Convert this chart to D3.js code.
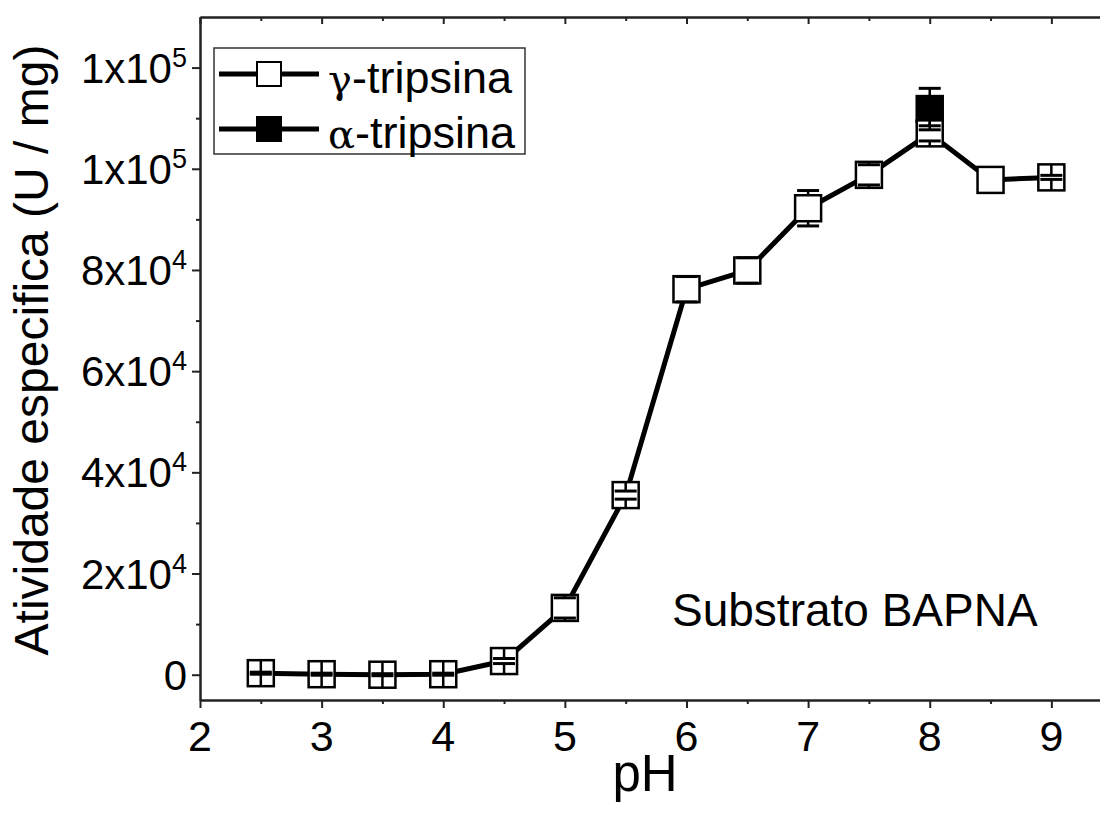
<!DOCTYPE html>
<html>
<head>
<meta charset="utf-8">
<script src="https://cdn.jsdelivr.net/npm/d3@7/dist/d3.min.js"></script>
<style>
  html, body { margin: 0; padding: 0; background: #fff; }
  svg { display: block; font-family: "Liberation Sans", Arial, sans-serif; }
</style>
</head>
<body>
<svg id="chart" width="1100" height="814"></svg>
<script>
// ---- data ----
const ph = [2.5, 3, 3.5, 4, 4.5, 5, 5.5, 6, 6.5, 7, 7.5, 8, 8.5, 9];
const gammaValues = [300, 100, 0, 100, 2700, 13200, 35500, 76200, 79900, 92200, 98800, 107000, 97800, 98300];
const gammaErrors = [200, 200, 200, 200, 500, 2000, 800, 2500, 2500, 3500, 2000, 1500, null, 400];
const alphaPh = [8];
const alphaValues = [111800];
const alphaErrors = [4100];
const xTicks = [2, 3, 4, 5, 6, 7, 8, 9];
const xMinorTicks = [2.5, 3.5, 4.5, 5.5, 6.5, 7.5, 8.5];
const yTicks = [0, 20000, 40000, 60000, 80000, 100000, 120000];
const yMinorTicks = [10000, 30000, 50000, 70000, 90000, 110000];
const yTickBase = ["0", "2x10", "4x10", "6x10", "8x10", "1x10", "1x10"];
const yTickExp = ["", "4", "4", "4", "4", "5", "5"];
const seriesNames = ["γ", "α"];
const legendSuffix = "-tripsina";
const xTitle = "pH";
const yTitle = "Atividade especifica (U / mg)";
const annotation = "Substrato BAPNA";

// ---- layout ----
const L = 200, R = 1100, T = 17, B = 700;
const svg = d3.select("#chart");
const x = d3.scaleLinear().domain([2, 9.4]).range([L, R]);
const y = d3.scaleLinear().domain([-5000, 130000]).range([B, T]);
const axisColor = "#222";
const ms = 26, half = ms / 2;

// axes
function styleAxis(g) {
  g.select(".domain").attr("stroke", axisColor).attr("stroke-width", 2);
  g.selectAll(".tick line").attr("stroke", axisColor).attr("stroke-width", 2);
  g.selectAll(".tick text").remove();
}
svg.append("g").attr("transform", `translate(0,${B})`)
  .call(d3.axisBottom(x).tickValues(xTicks).tickSize(8).tickSizeOuter(0).tickFormat(() => ""))
  .call(styleAxis);
svg.append("g").attr("transform", `translate(0,${B})`)
  .call(d3.axisBottom(x).tickValues(xMinorTicks).tickSize(4).tickSizeOuter(0).tickFormat(() => ""))
  .call(styleAxis);
svg.append("g").attr("transform", `translate(0,${T})`)
  .call(d3.axisBottom(x).tickValues(xTicks).tickSize(7).tickSizeOuter(0).tickFormat(() => ""))
  .call(styleAxis);
svg.append("g").attr("transform", `translate(0,${T})`)
  .call(d3.axisBottom(x).tickValues(xMinorTicks).tickSize(4).tickSizeOuter(0).tickFormat(() => ""))
  .call(styleAxis);
svg.append("g").attr("transform", `translate(${L},0)`)
  .call(d3.axisLeft(y).tickValues(yTicks).tickSize(8).tickSizeOuter(0).tickFormat(() => ""))
  .call(styleAxis);
svg.append("g").attr("transform", `translate(${L},0)`)
  .call(d3.axisLeft(y).tickValues(yMinorTicks).tickSize(4).tickSizeOuter(0).tickFormat(() => ""))
  .call(styleAxis);

// tick labels
svg.append("g").selectAll("text").data(xTicks).join("text")
  .attr("x", d => x(d)).attr("y", 751)
  .attr("text-anchor", "middle").attr("font-size", 43).attr("fill", "#000")
  .text(d => d);
const yl = svg.append("g").selectAll("text").data(yTicks).join("text")
  .attr("x", 187).attr("y", d => y(d) + 15)
  .attr("text-anchor", "end").attr("font-size", 42).attr("fill", "#000");
yl.append("tspan").text((d, i) => yTickBase[i]);
yl.append("tspan").attr("font-size", 27).attr("dy", -16).text((d, i) => yTickExp[i]);

// titles
svg.append("text").attr("x", 645).attr("y", 791).attr("text-anchor", "middle")
  .attr("font-size", 51).text(xTitle);
svg.append("text").attr("transform", "translate(48,350) rotate(-90)")
  .attr("text-anchor", "middle").attr("font-size", 48).text(yTitle);
svg.append("text").attr("x", 672).attr("y", 626).attr("font-size", 46).text(annotation);

// series
const line = d3.line().x(d => x(d[0])).y(d => y(d[1]));
function drawMarkers(xs, vals, fill) {
  const pts = xs.map((p, i) => [p, vals[i]]);
  svg.append("g").selectAll("rect").data(pts).join("rect")
    .attr("x", d => x(d[0]) - half).attr("y", d => y(d[1]) - half)
    .attr("width", ms).attr("height", ms)
    .attr("fill", fill).attr("stroke", "#000").attr("stroke-width", 2.5);
}
function drawErrors(xs, vals, errs) {
  const g = svg.append("g").attr("stroke", "#000").attr("stroke-width", 2.5);
  xs.forEach((p, i) => {
    const e = errs[i];
    if (e == null) return;
    const cx = x(p), cy = y(vals[i]);
    const yt = y(vals[i] + e), yb = y(vals[i] - e);
    g.append("line").attr("x1", cx).attr("x2", cx).attr("y1", cy - half).attr("y2", yt);
    g.append("line").attr("x1", cx).attr("x2", cx).attr("y1", cy + half).attr("y2", yb);
    g.append("line").attr("x1", cx - 11).attr("x2", cx + 11).attr("y1", yt).attr("y2", yt).attr("stroke-width", 3);
    g.append("line").attr("x1", cx - 11).attr("x2", cx + 11).attr("y1", yb).attr("y2", yb).attr("stroke-width", 3);
  });
}
// alpha (behind)
drawMarkers(alphaPh, alphaValues, "#000");
// gamma line and markers
svg.append("path").datum(ph.map((p, i) => [p, gammaValues[i]])).attr("d", line)
  .attr("fill", "none").attr("stroke", "#000").attr("stroke-width", 5)
  .attr("stroke-linejoin", "round");
drawMarkers(ph, gammaValues, "#fff");
drawErrors(ph, gammaValues, gammaErrors);
drawErrors(alphaPh, alphaValues, alphaErrors);

// legend
const lg = svg.append("g");
lg.append("rect").attr("x", 214).attr("y", 48).attr("width", 311).attr("height", 106)
  .attr("fill", "#fff").attr("stroke", "#333").attr("stroke-width", 1.5);
const rows = [74, 129];
const fills = ["#fff", "#000"];
seriesNames.forEach((name, i) => {
  const cy = rows[i];
  lg.append("line").attr("x1", 219).attr("x2", 319).attr("y1", cy).attr("y2", cy)
    .attr("stroke", "#000").attr("stroke-width", 5);
  lg.append("rect").attr("x", 269 - 12).attr("y", cy - 12).attr("width", 24).attr("height", 24)
    .attr("fill", fills[i]).attr("stroke", "#000").attr("stroke-width", 2);
  const t = lg.append("text").attr("x", 328).attr("y", cy + 19).attr("font-size", 45);
  t.append("tspan").attr("font-family", "'DejaVu Serif', 'Liberation Serif', serif").attr("font-size", 40).text(name);
  t.append("tspan").text(legendSuffix);
});
</script>
</body>
</html>
